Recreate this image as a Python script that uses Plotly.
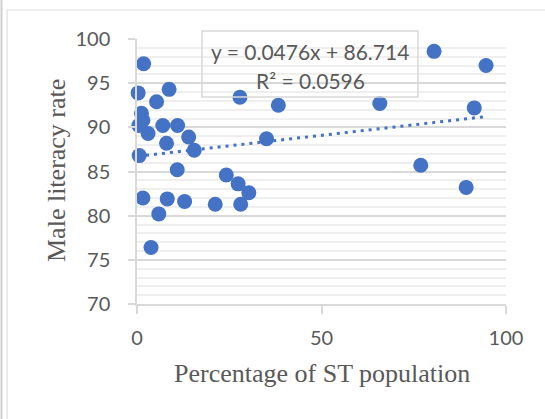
import plotly.graph_objects as go

# Share of Scheduled Tribe population (%) and male literacy rate (%) by state
st_pct = [1.8, 0.3, 8.7, 5.3, 1.2, 1.6, 0.5, 3.0, 7.0, 11.0,
          8.0, 14.0, 15.5, 0.6, 10.9, 1.6, 8.2, 5.9, 12.9, 3.8,
          21.2, 24.2, 27.4, 30.3, 28.1, 27.9, 38.3, 35.1, 65.8, 80.5,
          76.9, 89.2, 91.4, 94.6]
male_lit = [97.2, 93.9, 94.3, 92.9, 91.6, 90.8, 90.2, 89.3, 90.2, 90.2,
            88.2, 88.9, 87.4, 86.8, 85.2, 82.0, 81.9, 80.2, 81.6, 76.4,
            81.3, 84.6, 83.6, 82.6, 81.3, 93.4, 92.5, 88.7, 92.7, 98.6,
            85.7, 83.2, 92.2, 97.0]

# Linear trendline as reported on the chart
slope = 0.0476
intercept = 86.714
r_squared = 0.0596

x_ticks = [0, 50, 100]
y_ticks = [70, 75, 80, 85, 90, 95, 100]

W, H = 545, 419
L, R, T, B = 137, 39, 39, 115
PW, PH = W - L - R, H - T - B

BLUE = "#4472C4"
TEXT = "#595959"
GRID = "#d9d9d9"
MINOR = "#efefef"


def px(x_pixel):
    return (x_pixel - L) / PW


def py(y_pixel):
    return (H - B - y_pixel) / PH


fig = go.Figure()

fig.add_trace(go.Scatter(
    x=st_pct, y=male_lit, mode="markers",
    marker=dict(size=15, color=BLUE, line=dict(width=0)),
    cliponaxis=False,
    hoverinfo="x+y", showlegend=False,
))

x_lo, x_hi = min(st_pct), max(st_pct)
fig.add_trace(go.Scatter(
    x=[x_lo, x_hi],
    y=[slope * x_lo + intercept, slope * x_hi + intercept],
    mode="lines",
    line=dict(color=BLUE, width=3, dash="3px,5px"),
    hoverinfo="skip", showlegend=False,
))

shapes = [
    # outer frame edges
    dict(type="line", xref="paper", yref="paper",
         x0=px(1.5), x1=px(1.5), y0=py(0), y1=py(H),
         line=dict(color="#d0d0d0", width=2)),
    dict(type="line", xref="paper", yref="paper",
         x0=px(7), x1=px(7), y0=py(10), y1=py(H),
         line=dict(color=GRID, width=1)),
    dict(type="line", xref="paper", yref="paper",
         x0=px(7), x1=px(W), y0=py(10), y1=py(10),
         line=dict(color=GRID, width=1)),
    # trendline label box
    dict(type="rect", xref="paper", yref="paper",
         x0=px(202), x1=px(418), y0=py(31), y1=py(97),
         line=dict(color=GRID, width=1.5), fillcolor="rgba(0,0,0,0)"),
]

eq_font = dict(family="Lato, Open Sans, sans-serif", size=21, color=TEXT)
title_font = dict(family="Liberation Serif, Times New Roman, serif", size=26, color=TEXT)

annotations = [
    dict(text=f"y = {slope}x + {intercept}", xref="paper", yref="paper",
         x=px(310), y=py(51), xanchor="center", yanchor="middle",
         showarrow=False, font=eq_font),
    dict(text=f"R² = {r_squared}", xref="paper", yref="paper",
         x=px(310), y=py(80), xanchor="center", yanchor="middle",
         showarrow=False, font=eq_font),
    dict(text="Percentage of ST population", xref="paper", yref="paper",
         x=px(321.5), y=py(373.5), xanchor="center", yanchor="middle",
         showarrow=False, font=title_font),
    dict(text="Male literacy rate", xref="paper", yref="paper",
         x=px(56), y=py(171), xanchor="center", yanchor="middle",
         textangle=-90, showarrow=False, font=title_font),
]

fig.update_layout(
    width=W, height=H,
    margin=dict(l=L, r=R, t=T, b=B, pad=0),
    paper_bgcolor="white", plot_bgcolor="white",
    showlegend=False,
    shapes=shapes,
    annotations=annotations,
    xaxis=dict(
        range=[0, 100], tickvals=x_ticks, ticks="outside", ticklen=8,
        tickcolor=GRID, tickwidth=1.5, showline=True, linecolor=GRID, linewidth=1.5,
        showgrid=False, zeroline=False, ticklabelstandoff=7,
        tickfont=dict(family="Lato, Open Sans, sans-serif", size=20, color=TEXT),
        fixedrange=True,
    ),
    yaxis=dict(
        range=[70, 100], tickvals=y_ticks, ticks="outside", ticklen=7,
        tickcolor=GRID, tickwidth=1.5, showline=True, linecolor=GRID, linewidth=1.5,
        showgrid=True, gridcolor=GRID, gridwidth=1.5, zeroline=False,
        minor=dict(dtick=1, showgrid=True, gridcolor=MINOR, gridwidth=1.5, ticks=""),
        ticklabelstandoff=14,
        tickfont=dict(family="Lato, Open Sans, sans-serif", size=20, color=TEXT),
        fixedrange=True,
    ),
)

fig.write_html("out.html")
